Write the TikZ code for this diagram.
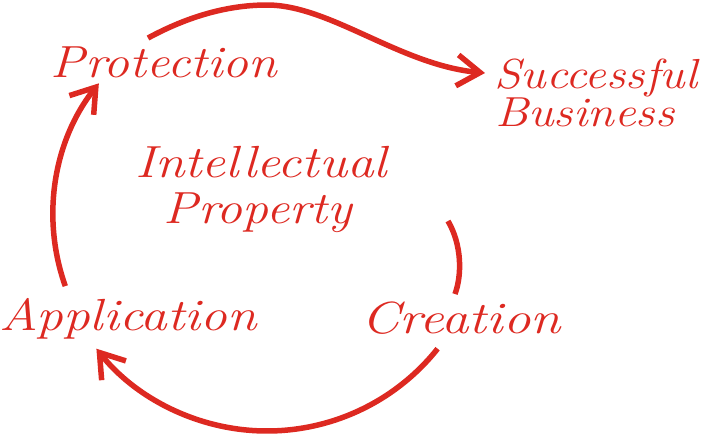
\documentclass[tikz,border=0pt]{standalone}
\usepackage{fontspec}
\setmainfont{Latin Modern Roman}
\newfontfamily\handfont{Latin Modern Roman}[FakeStretch=1.15]
\usetikzlibrary{arrows.meta}
\definecolor{ipred}{RGB}{221,41,33}
\begin{document}
\begin{tikzpicture}[x=1pt,y=-1pt,
  lbl/.style={text=ipred, font=\handfont\itshape\fontsize{45}{45}\selectfont, inner sep=0pt, anchor=base},
  goal/.style={lbl, font=\handfont\itshape\fontsize{42}{42}\selectfont, anchor=base west},
  stroke/.style={draw=ipred, line width=5.5pt},
  tip/.style={-{Straight Barb[length=23pt,width=31pt,sharp]}}]
\useasboundingbox (0,0) rectangle (710,437);
% labels
\node[lbl] (prot) at (164,77) {Protection};
\node[goal] (succ) at (494,88) {Successful};
\node[goal] (bus) at (495,126) {Business};
\node[lbl] (intel) at (261,177) {\scalebox{1.03}[1]{Intellectual}};
\node[lbl] (prop) at (258,223) {Property};
\node[lbl] (appl) at (128,330) {\scalebox{1.03}[1]{Application}};
\node[lbl] (crea) at (461,333) {\scalebox{1.06}[1]{Creation}};
% connector end points
\coordinate (topStart) at (148,38);
\coordinate (topPeak) at (267,5);
\coordinate (succTip) at (485,73);
\coordinate (applTail) at (65.3,286.1);
\coordinate (creaTail) at (437.6,348.7);
\coordinate (rTop) at (448,221);
\coordinate (rBot) at (455,294);
% connectors
\draw[stroke,tip] (topStart) .. controls (185,18) and (225,5) .. (topPeak)
  .. controls (330,5) and (400,65) .. (succTip);
\draw[stroke,tip] (applTail) arc[start angle=160.4, end angle=218.4, radius=212];
\draw[stroke,tip] (creaTail) arc[start angle=38.5, end angle=141.5, radius=218];
\draw[stroke] (rTop) .. controls (462,245) and (462,275) .. (rBot);
\end{tikzpicture}
\end{document}
